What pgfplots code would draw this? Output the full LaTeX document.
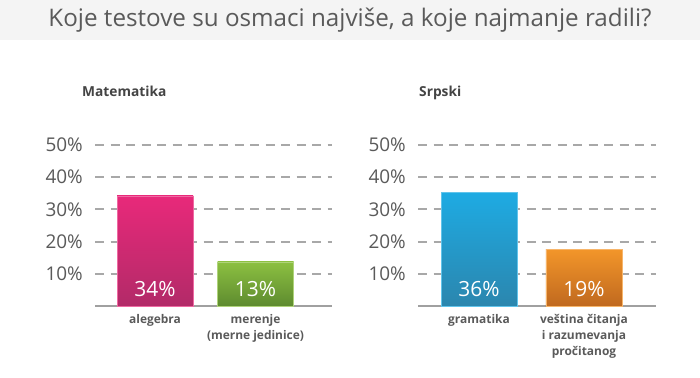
\documentclass[border=0pt]{standalone}
\usepackage{fontspec}
\setmainfont{Open Sans}
\usepackage{pgfplots}
\pgfplotsset{compat=1.18}
\definecolor{titlebg}{HTML}{F4F4F4}
\definecolor{titletxt}{HTML}{5A5A5A}
\definecolor{txt}{HTML}{5A5A5A}
\definecolor{txtdark}{HTML}{444444}
\definecolor{gridgray}{HTML}{A8A8A8}
\definecolor{axisgray}{HTML}{A0A0A0}
\definecolor{magtop}{HTML}{E8297A}
\definecolor{magbot}{HTML}{B22A68}
\definecolor{grntop}{HTML}{8CC041}
\definecolor{grnbot}{HTML}{5E8B2F}
\definecolor{blutop}{HTML}{1EABE3}
\definecolor{blubot}{HTML}{2B86AE}
\definecolor{orgtop}{HTML}{F3962A}
\definecolor{orgbot}{HTML}{C0691F}
\pgfplotsset{mystyle/.style={
  scale only axis, height=161bp, ymin=0, ymax=50, ytick={10,20,30,40,50},
  axis x line*=bottom, axis y line*=left,
  y axis line style={draw=none},
  x axis line style={draw=axisgray, line width=1.5bp, -},
  major tick length=0pt,
  ymajorgrids, grid style={gridgray, line width=2bp, dash pattern=on 9bp off 6.5bp},
  /pgf/number format/assume math mode=true,
  yticklabel={\pgfmathprintnumber{\tick}\%},
  yticklabel style={font=\fontsize{19}{21}\selectfont, text=txt, anchor=east, inner sep=0pt, xshift=-12bp},
  xtick={0,1},
  xticklabel style={font=\fontsize{12}{16}\selectfont\bfseries, text=txt, align=center, anchor=north, inner sep=0pt, yshift=-8bp},
  clip=false,
}}
\begin{document}
\begin{tikzpicture}[x=1bp,y=1bp]
\fill[white] (0,0) rectangle (700,377);
\fill[titlebg] (0,337) rectangle (700,377);
\node[text=titletxt, font=\fontsize{24.3}{28}\selectfont] at (350,357) {Koje testove su osmaci najviše, a koje najmanje radili?};
\node[anchor=base west, text=txtdark, font=\fontsize{13.8}{16}\selectfont\bfseries, inner sep=0pt] at (82,281) {Matematika};
\node[anchor=base west, text=txtdark, font=\fontsize{13.8}{16}\selectfont\bfseries, inner sep=0pt] at (419,281) {Srpski};

\begin{axis}[mystyle, at={(95bp,71bp)}, anchor=south west, width=237bp,
  xmin=-0.597, xmax=1.761,
  xticklabels={alegebra, merenje\\(merne jedinice)}]
\addplot[ybar, bar width=0.756, bar shift=0pt, draw=magtop!70!white, line width=0.6bp, top color=magtop, bottom color=magbot] coordinates {(0,34.2)};
\addplot[ybar, bar width=0.756, bar shift=0pt, draw=grntop!70!white, line width=0.6bp, top color=grntop, bottom color=grnbot] coordinates {(1,13.7)};
\node[text=white, font=\fontsize{21}{23}\selectfont] at (axis cs:0,5.3) {34\%};
\node[text=white, font=\fontsize{21}{23}\selectfont] at (axis cs:1,5.3) {13\%};
\end{axis}

\begin{axis}[mystyle, at={(418bp,71bp)}, anchor=south west, width=238bp,
  xmin=-0.581, xmax=1.686,
  xticklabels={gramatika, veština čitanja\\i razumevanja\\pročitanog}]
\addplot[ybar, bar width=0.724, bar shift=0pt, draw=blutop!70!white, line width=0.6bp, top color=blutop, bottom color=blubot] coordinates {(0,35.4)};
\addplot[ybar, bar width=0.724, bar shift=0pt, draw=orgtop!70!white, line width=0.6bp, top color=orgtop, bottom color=orgbot] coordinates {(1,17.7)};
\node[text=white, font=\fontsize{21}{23}\selectfont] at (axis cs:0,5.3) {36\%};
\node[text=white, font=\fontsize{21}{23}\selectfont] at (axis cs:1,5.3) {19\%};
\end{axis}
\end{tikzpicture}
\end{document}
